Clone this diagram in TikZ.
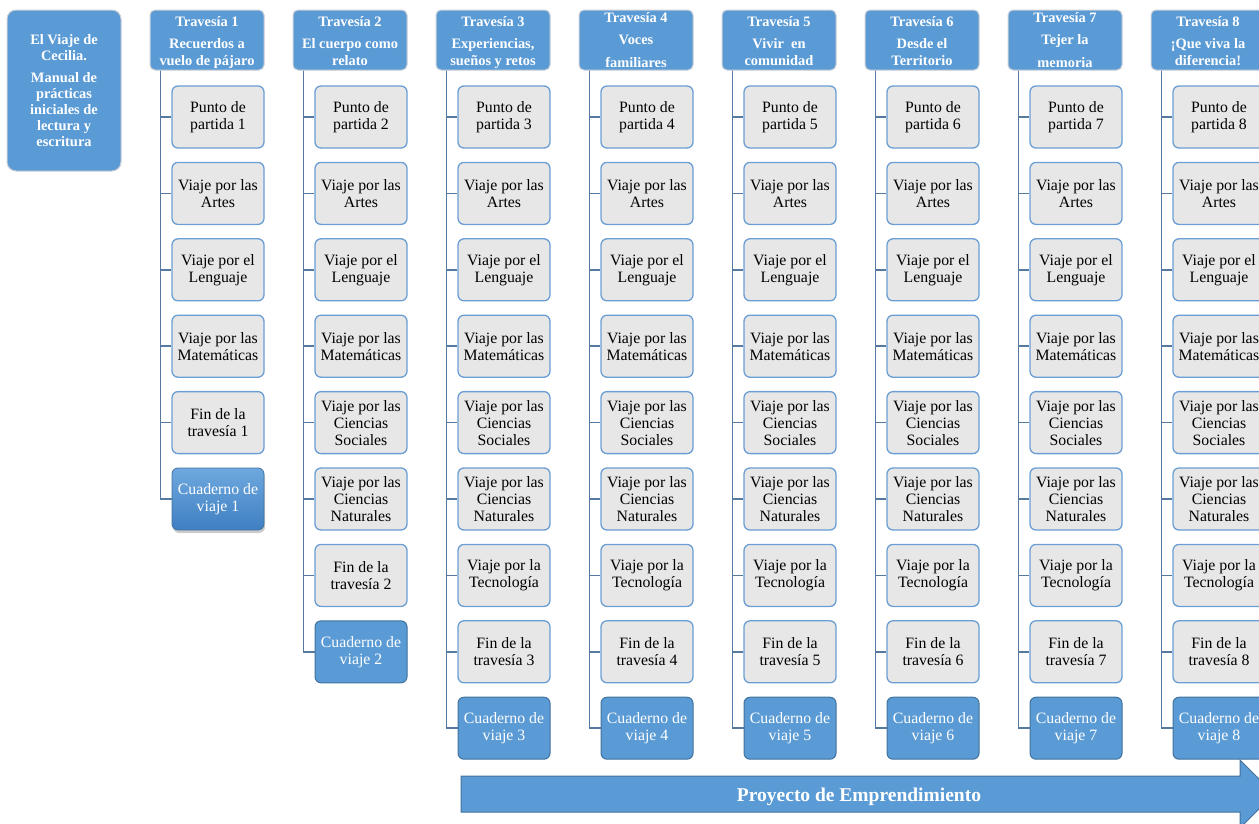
\documentclass[tikz,border=0pt]{standalone}
\usepackage{fontspec}
\setmainfont{Liberation Serif}
\usetikzlibrary{shadows}
\definecolor{obl}{HTML}{5B9BD5}
\definecolor{hbord}{HTML}{C9CED6}
\definecolor{igray}{HTML}{E7E7E7}
\definecolor{ibord}{HTML}{6A9ED4}
\definecolor{cbord}{HTML}{41719C}
\definecolor{sline}{HTML}{5679A0}
\definecolor{cuadtop}{HTML}{6EA8DE}
\definecolor{cuadbot}{HTML}{3F7FC2}
\newcommand{\toprule}{\rule{0pt}{16pt}}
\newcommand{\botph}{\vphantom{p}}
\tikzset{
 hdr/.style={rectangle, rounded corners=5pt, fill=obl, draw=hbord, line width=1pt,
   minimum width=114pt, minimum height=60pt, text=white,
   font=\bfseries\fontsize{14.4}{17}\selectfont, align=center, inner sep=0pt},
 intro/.style={hdr, rounded corners=9pt, minimum height=161pt,
   font=\bfseries\fontsize{14.4}{16}\selectfont},
 item/.style={rectangle, rounded corners=6pt, fill=igray, draw=ibord, line width=1.3pt,
   minimum width=92pt, minimum height=62pt, font=\fontsize{15.8}{17}\selectfont,
   align=center, inner sep=0pt},
 cuad/.style={item, fill=obl, draw=cbord, line width=1pt, text=white},
 spine/.style={draw=sline, line width=1.5pt},
 arrowbody/.style={fill=obl, draw=cbord, line width=1pt},
}
\begin{document}
\begin{tikzpicture}[x=1pt,y=-1pt]
\useasboundingbox (0,0) rectangle (1259,823);
\clip (0,0) rectangle (1259,823);

% intro
\node[intro] (intro) at (64,90.5) {El Viaje de\\Cecilia.\\[6pt]Manual de\\prácticas\\iniciales de\\lectura y\\escritura};

% headers
\node[hdr] (h1) at (207,40) {\toprule Travesía 1\\[5pt]Recuerdos a\\vuelo de pájaro\botph};
\node[hdr] (h2) at (350,40) {\toprule Travesía 2\\[5pt]El cuerpo como\\relato\botph};
\node[hdr] (h3) at (493,40) {\toprule Travesía 3\\[5pt]Experiencias,\\sueños y retos\botph};
\node[hdr] (h4) at (636,40) {Travesía 4\\[5.5pt]Voces\\[5.5pt]familiares};
\node[hdr] (h5) at (779,40) {\toprule Travesía 5\\[5pt]Vivir \ en\\comunidad\botph};
\node[hdr] (h6) at (922,40) {\toprule Travesía 6\\[5pt]Desde el\\Territorio\botph};
\node[hdr] (h7) at (1065,40) {Travesía 7\\[5.5pt]Tejer la\\[5.5pt]memoria};
\node[hdr] (h8) at (1208,40) {\toprule Travesía 8\\[5pt]¡Que viva la\\diferencia!\botph};

% column 1
\foreach[count=\k] \t in {{Punto de\\partida 1},{Viaje por las\\Artes},{Viaje por el\\Lenguaje},{Viaje por las\\Matemáticas},{Fin de la\\travesía 1}}{
  \node[item] (c1-\k) at (218,{117+76.4*(\k-1)}) {\t};
}
\node[item, draw=cbord, line width=0.8pt, top color=cuadtop, bottom color=cuadbot, text=white,
  drop shadow={opacity=0.4, shadow xshift=1pt, shadow yshift=-3pt}] (c1-6) at (218,499) {Cuaderno de\\viaje 1};
\foreach \k in {1,...,6}{ \draw[spine] ([xshift=11pt]h1.south west) |- (c1-\k.west); }

% column 2
\foreach[count=\k] \t in {{Punto de\\partida 2},{Viaje por las\\Artes},{Viaje por el\\Lenguaje},{Viaje por las\\Matemáticas},{Viaje por las\\Ciencias\\Sociales},{Viaje por las\\Ciencias\\Naturales},{Fin de la\\travesía 2}}{
  \node[item] (c2-\k) at (361,{117+76.4*(\k-1)}) {\t};
}
\node[cuad] (c2-8) at (361,{117+76.4*7}) {Cuaderno de\\viaje 2};
\foreach \k in {1,...,8}{ \draw[spine] ([xshift=11pt]h2.south west) |- (c2-\k.west); }

% columns 3-8
\foreach \i in {3,...,8}{
  \pgfmathsetmacro\cx{218+143*(\i-1)}
  \foreach[count=\k] \t in {{Punto de\\partida \i},{Viaje por las\\Artes},{Viaje por el\\Lenguaje},{Viaje por las\\Matemáticas},{Viaje por las\\Ciencias\\Sociales},{Viaje por las\\Ciencias\\Naturales},{Viaje por la\\Tecnología},{Fin de la\\travesía \i}}{
    \node[item] (c\i-\k) at (\cx,{117+76.4*(\k-1)}) {\t};
  }
  \node[cuad] (c\i-9) at (\cx,{117+76.4*8}) {Cuaderno de\\viaje \i};
  \foreach \k in {1,...,9}{ \draw[spine] ([xshift=11pt]h\i.south west) |- (c\i-\k.west); }
}

% arrow
\draw[arrowbody] (461,776) -- (1240,776) -- (1240,760) -- (1274,794) -- (1240,828) -- (1240,812) -- (461,812) -- cycle;
\node[text=white, font=\bfseries\fontsize{19.5}{22}\selectfont, inner sep=0pt] (proy) at (859,797) {Proyecto de Emprendimiento};
\end{tikzpicture}
\end{document}
